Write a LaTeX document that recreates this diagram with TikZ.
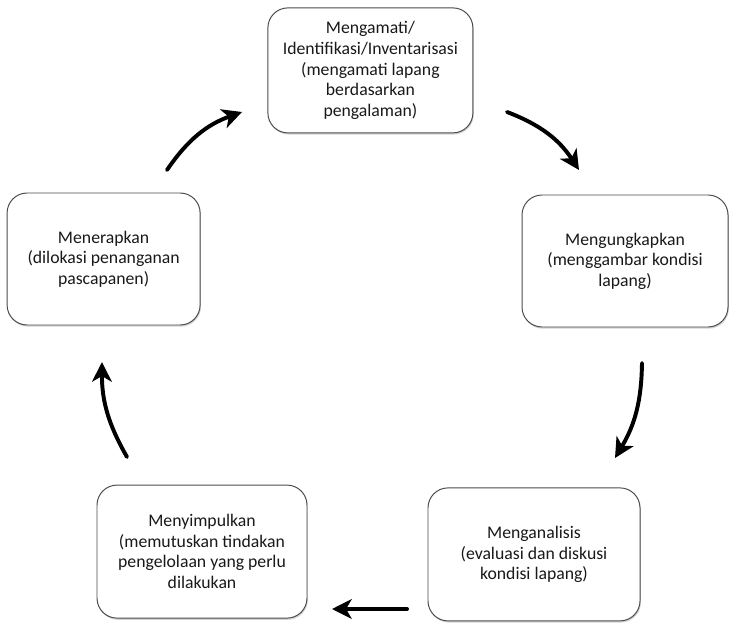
\documentclass[tikz,border=0pt]{standalone}
\usepackage{fontspec}
\setmainfont{Carlito}
\usepackage{tikz}
\usetikzlibrary{shapes}
\usetikzlibrary{shadows}
\usetikzlibrary{arrows.meta}
\tikzset{
    mybox/.style = {rectangle, rounded corners=0.5cm, draw=black!70, line width=0.7pt, fill=white, align=center,
                    text=black!90, font=\fontsize{12.6}{14.6}\selectfont,
                    drop shadow={opacity=0.35, shadow xshift=0.6pt, shadow yshift=-1.2pt}},
    edgen/.style = {-{Stealth[length=14pt,width=14pt,inset=4pt]}, line width=2.8pt, black, line cap=round},
}

\begin{document}
\begin{tikzpicture}[thick]
\useasboundingbox (0,0) rectangle (18.275,-15.625);

\node[mybox, minimum width=5.125cm, minimum height=3.125cm] at (9.26,-1.76) (amati)
  {Mengamati/\\Identifikasi/Inventarisasi\\(mengamati lapang\\berdasarkan\\pengalaman)};
\node[mybox, minimum width=5.15cm, minimum height=3.3cm] at (15.625,-6.525) (ungkap)
  {Mengungkapkan\\(menggambar kondisi\\lapang)};
\node[mybox, minimum width=5.3cm, minimum height=3.325cm] at (13.35,-13.86) (analisis)
  {Menganalisis\\(evaluasi dan diskusi\\kondisi lapang)};
\node[mybox, minimum width=5.25cm, minimum height=3.325cm] at (5.05,-13.79) (simpul)
  {Menyimpulkan\\(memutuskan tindakan\\pengelolaan yang perlu\\dilakukan};
\node[mybox, minimum width=4.825cm, minimum height=3.3cm] at (2.59,-6.475) (terap)
  {Menerapkan\\(dilokasi penanganan\\pascapanen)};

% arrow ends
\coordinate (a1s) at (4.175,-4.25);   \coordinate (a1e) at (6.05,-2.8);
\coordinate (a2s) at (12.675,-2.8);   \coordinate (a2e) at (14.475,-4.25);
\coordinate (a3s) at (16.05,-9.075);  \coordinate (a3e) at (15.375,-11.45);
\coordinate (a4s) at (10.175,-15.225); \coordinate (a4e) at (8.3,-15.225);
\coordinate (a5s) at (3.175,-11.425); \coordinate (a5e) at (2.55,-9.05);

\draw[edgen] (a1s) to[bend left=18] (a1e);
\draw[edgen] (a2s) to[bend left=18] (a2e);
\draw[edgen] (a3s) to[bend left=15] (a3e);
\draw[edgen] (a4s) -- (a4e);
\draw[edgen] (a5s) to[bend left=15] (a5e);

\end{tikzpicture}
\end{document}
